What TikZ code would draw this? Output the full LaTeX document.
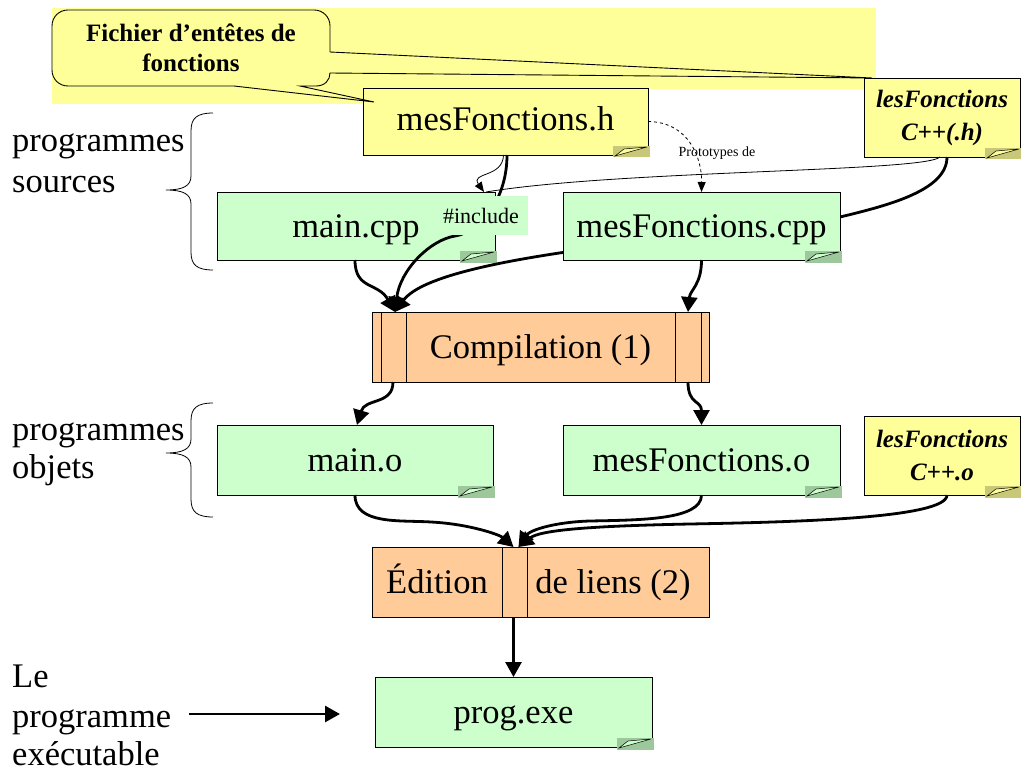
\documentclass[tikz,border=0pt]{standalone}
\usepackage{fontspec}
\setmainfont{Liberation Serif}
\usetikzlibrary{arrows.meta}
\definecolor{yel}{HTML}{FFFF99}
\definecolor{yeldark}{HTML}{C8C878}
\definecolor{grn}{HTML}{CCFFCC}
\definecolor{grndark}{HTML}{9CC89C}
\definecolor{org}{HTML}{FFCC99}
\newcommand{\foldcorner}[3]{%
  \fill[#2] ([xshift=-35pt,yshift=9pt]#1.south east) rectangle ([xshift=1.5pt,yshift=-2.5pt]#1.south east);
  \filldraw[fill=#3,draw=black,line width=0.5pt] ([xshift=-33pt,yshift=-1pt]#1.south east) -- ([xshift=-24pt,yshift=6pt]#1.south east) -- ([xshift=-1pt,yshift=8pt]#1.south east) -- cycle;}
\newcommand{\drawbrace}[3]{%
  \draw[line width=0.8pt] (213,#1) .. controls (197,#1) and (191,#1+5) .. (191,#1+18) -- (191,#3-14) .. controls (191,#3-4) and (183,#3) .. (166,#3) .. controls (183,#3) and (191,#3+4) .. (191,#3+14) -- (191,#2-18) .. controls (191,#2-5) and (197,#2) .. (213,#2);}
\tikzset{
  big/.style={font=\fontsize{34.5}{38}\selectfont},
  box/.style={draw=black,line width=0.9pt,inner sep=0pt,outer sep=0pt,big,text height=23pt,text depth=0pt},
  note/.style={box,fill=grn},
  proc/.style={box,fill=org},
  yfunc/.style={draw=black,line width=0.9pt,inner sep=0pt,outer sep=0pt,fill=yel,align=center,font=\fontsize{25}{33}\selectfont\bfseries\itshape},
  lbl/.style={big,anchor=base west,inner sep=0pt},
  bigarrow/.style={line width=2.8pt,-{Triangle[width=16pt,length=15pt]}},
  thinarrow/.style={line width=0.8pt,-{Triangle[width=8pt,length=10pt]}},
  divider/.style={line width=0.9pt}
}
\begin{document}
\begin{tikzpicture}[x=1pt,y=-1pt]
\useasboundingbox (0,0) rectangle (1021,773);
% callout background
\fill[yel] (52,8) rectangle (876,89);
\fill[yel] (52,89) rectangle (363,104);
% header boxes
\node[box,fill=yel,minimum width=285pt,minimum height=67pt,text height=22pt,text depth=4pt] (mesh) at (505.5,121.5) {mesFonctions.h};
\foldcorner{mesh}{yeldark}{yel}
\node[yfunc,minimum width=156pt,minimum height=79pt] (lesh) at (942,117.5) {lesFonctions\\C++(.h)};
\foldcorner{lesh}{yeldark}{yel}
% callout
\filldraw[fill=yel,draw=black,line width=0.9pt]
  (68,10) -- (314,10) .. controls (323,10) and (330,17) .. (330,26) -- (330,52) -- (872,78) -- (330,73)
  .. controls (330,80) and (325,86) .. (316,86) -- (300,86) -- (374,102) -- (234,86) -- (68,86)
  .. controls (59,86) and (52,79) .. (52,70) -- (52,26) .. controls (52,17) and (59,10) .. (68,10) -- cycle;
\node[align=center,inner sep=0pt,font=\fontsize{25}{30}\selectfont\bfseries] (callt) at (191,48) {Fichier d’entêtes de\\fonctions};
% sources
\node[note,minimum width=278pt,minimum height=68pt] (maincpp) at (356,226) {main.cpp};
\foldcorner{maincpp}{grndark}{grn}
\node[proc,minimum width=337pt,minimum height=70pt] (comp) at (540.5,347) {Compilation (1)};
\foreach \dx in {9,34} \draw[divider] ([xshift=\dx pt]comp.north west) -- ([xshift=\dx pt]comp.south west);
\foreach \dx in {-34,-8} \draw[divider] ([xshift=\dx pt]comp.north east) -- ([xshift=\dx pt]comp.south east);
% lesFonctions.h -> compilation (behind mesFonctions.cpp)
\draw[bigarrow] ([xshift=5pt]lesh.south) .. controls (947,190) and (890,205) .. (840,217)
  .. controls (760,235) and (440,250) .. ([xshift=23pt]comp.north west);
\node[note,minimum width=277pt,minimum height=68pt] (mescpp) at (701.5,226) {mesFonctions.cpp};
\foldcorner{mescpp}{grndark}{grn}
% mesFonctions.h -> compilation
\draw[bigarrow] ([xshift=1.5pt]mesh.south) .. controls (507,200) and (480,232) .. (455,236)
  .. controls (430,240) and (400,270) .. ([xshift=23pt]comp.north west);
\node[fill=grn,minimum width=94pt,minimum height=39pt,inner sep=0pt,font=\fontsize{22}{24}\selectfont] (incl) at (481,215.5) {\#include};
% main.cpp -> compilation
\draw[bigarrow] ([xshift=-1pt]maincpp.south) .. controls (355,290) and (378,282) .. ([xshift=23pt]comp.north west);
\draw[bigarrow] (mescpp.south) .. controls (701.5,285) and (690,290) .. ([xshift=-21pt]comp.north east);
% thin connectors
\draw[thinarrow] ([xshift=-2pt]mesh.south) .. controls (503,178) and (470,172) .. ([xshift=128pt]maincpp.north);
\draw[line width=0.8pt] ([xshift=-2pt]lesh.south) .. controls (925,172) and (620,170) .. ([xshift=130pt]maincpp.north);
\draw[thinarrow,dashed] (mesh.east) .. controls (690,122) and (702,160) .. (mescpp.north);
\node[font=\fontsize{14}{16}\selectfont,inner sep=0pt] (proto) at (717,153) {Prototypes de};
% objects
\node[note,minimum width=276pt,minimum height=70pt] (maino) at (355,460) {main.o};
\foldcorner{maino}{grndark}{grn}
\node[note,minimum width=277pt,minimum height=70pt] (meso) at (701.5,460) {mesFonctions.o};
\foldcorner{meso}{grndark}{grn}
\node[yfunc,minimum width=156pt,minimum height=79pt] (leso) at (942,455.5) {lesFonctions\\C++.o};
\foldcorner{leso}{yeldark}{yel}
\draw[bigarrow] ([xshift=21pt]comp.south west) .. controls (393,405) and (365,398) .. ([xshift=2pt]maino.north);
\draw[bigarrow] ([xshift=-21pt]comp.south east) .. controls (688,405) and (701.5,400) .. (meso.north);
% link edition
\node[proc,minimum width=337pt,minimum height=70pt] (edit) at (540.5,582) {};
\foreach \dx in {130,155} \draw[divider] ([xshift=\dx pt]edit.north west) -- ([xshift=\dx pt]edit.south west);
\node[big,inner sep=0pt,text height=23pt,text depth=0pt] (edit1) at (437,582) {Édition};
\node[big,inner sep=0pt,text height=23pt,text depth=0pt] (edit2) at (613,582) {de liens (2)};
\draw[bigarrow] (maino.south) .. controls (355,525) and (400,520) .. (431,522)
  .. controls (470,524) and (500,535) .. ([xshift=-27pt]edit.north);
\draw[bigarrow] (meso.south) .. controls (701.5,520) and (640,520) .. (590,521)
  .. controls (555,522) and (530,530) .. ([xshift=-22pt]edit.north);
\draw[bigarrow] ([xshift=5pt]leso.south) .. controls (947,518) and (800,522) .. (690,524)
  .. controls (590,526) and (540,530) .. ([xshift=-22pt]edit.north);
% executable
\node[note,minimum width=277pt,minimum height=70pt] (prog) at (513.5,712) {prog.exe};
\foldcorner{prog}{grndark}{grn}
\draw[bigarrow] ([xshift=-27pt]edit.south) -- (prog.north);
% left labels
\node[lbl] (src1) at (12,152) {programmes};
\node[lbl] (src2) at (12,193) {sources};
\node[lbl] (obj1) at (12,440) {programmes};
\node[lbl] (obj2) at (12,478) {objets};
\node[lbl] (exe1) at (12,687) {Le};
\node[lbl] (exe2) at (12,727) {programme};
\node[lbl] (exe3) at (12,765) {exécutable};
\drawbrace{113}{270}{190}
\drawbrace{403}{517}{453}
\coordinate (exetgt) at (340,714);
\draw[bigarrow] ([xshift=18pt]exe2.east |- exetgt) -- (exetgt);
\end{tikzpicture}
\end{document}
